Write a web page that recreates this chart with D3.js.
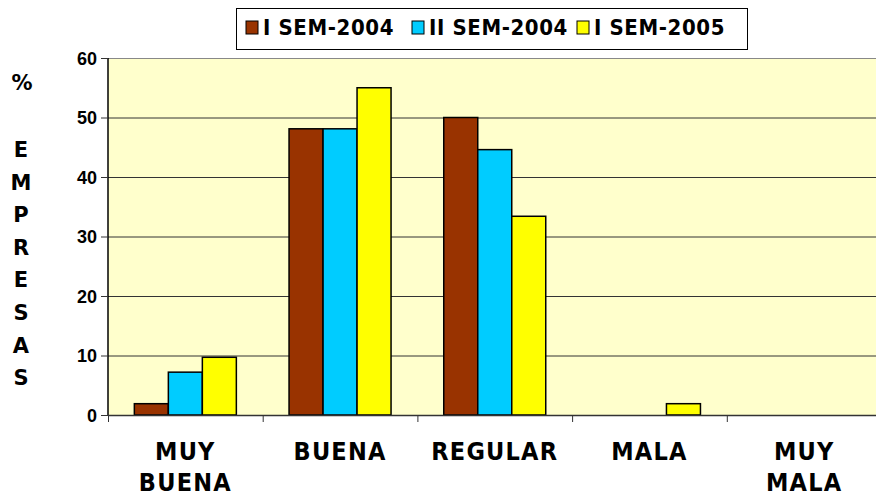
<!DOCTYPE html>
<html>
<head>
<meta charset="utf-8">
<script src="https://cdn.jsdelivr.net/npm/d3@7"></script>
<style>
  body { margin: 0; background: #fff; }
  svg { display: block; }
  .cat { font-family: "DejaVu Sans Condensed", "DejaVu Sans", sans-serif; font-stretch: condensed; font-weight: bold; font-size: 25px; letter-spacing: 1.2px; }
  .ylab { font-family: "Liberation Sans", Arial, sans-serif; font-weight: bold; font-size: 18px; }
  .ytitle { font-family: "DejaVu Sans", sans-serif; font-weight: bold; font-size: 21px; }
  .leg { font-family: "DejaVu Sans Condensed", "DejaVu Sans", sans-serif; font-stretch: condensed; font-weight: bold; font-size: 22px; letter-spacing: 0.6px; }
</style>
</head>
<body>
<svg id="chart" width="876" height="497"></svg>
<script>
const categories = [["MUY", "BUENA"], ["BUENA"], ["REGULAR"], ["MALA"], ["MUY", "MALA"]];
const seriesNames = ["I SEM-2004", "II SEM-2004", "I SEM-2005"];
const sem1_2004 = [1.9, 48.1, 50.0, 0, 0];
const sem2_2004 = [7.2, 48.1, 44.6, 0, 0];
const sem1_2005 = [9.7, 55.0, 33.4, 1.9, 0];
const yTicks = [0, 10, 20, 30, 40, 50, 60];
const titleLetters = ["E", "M", "P", "R", "E", "S", "A", "S"];

const colors = ["#993300", "#00CCFF", "#FFFF00"];
const series = [sem1_2004, sem2_2004, sem1_2005];

const plotL = 108, plotR = 881.5, plotT = 58, plotB = 415;
const svg = d3.select("#chart");

const x = d3.scaleBand().domain(d3.range(categories.length)).range([plotL, plotR]);
const y = d3.scaleLinear().domain([0, 60]).range([plotB, plotT]);
const barW = 34;
const inner = d3.scaleBand().domain(d3.range(3)).range([0, barW * 3]);

// plot background
svg.append("rect")
    .attr("x", plotL).attr("y", plotT)
    .attr("width", plotR - plotL).attr("height", plotB - plotT)
    .attr("fill", "#FFFFCC");

// gridlines
svg.append("g")
    .selectAll("line")
    .data(yTicks.filter(d => d > 0))
    .join("line")
    .attr("x1", plotL).attr("x2", plotR)
    .attr("y1", d => y(d) + 0.5).attr("y2", d => y(d) + 0.5)
    .attr("stroke", d => d === 60 ? "#888" : "#333")
    .attr("stroke-width", 1);

// bars
const groups = svg.append("g")
    .selectAll("g")
    .data(categories.map((c, i) => i))
    .join("g")
    .attr("transform", i => `translate(${x(i) + (x.bandwidth() - barW * 3) / 2},0)`);

groups.selectAll("rect")
    .data(i => series.map((s, k) => ({k, v: s[i]})).filter(d => d.v > 0))
    .join("rect")
    .attr("x", d => inner(d.k))
    .attr("width", inner.bandwidth())
    .attr("y", d => y(d.v))
    .attr("height", d => y(0) - y(d.v))
    .attr("fill", d => colors[d.k])
    .attr("stroke", "#000")
    .attr("stroke-width", 1.5);

// y axis
const yAxis = svg.append("g")
    .attr("transform", `translate(${plotL},0)`)
    .call(d3.axisLeft(y).tickValues(yTicks).tickSize(7).tickPadding(4));
yAxis.select(".domain").attr("stroke", "#000").attr("stroke-width", 1.5).attr("d", `M0,${plotT}V${plotB}`);
yAxis.selectAll(".tick line").attr("stroke", "#333");
yAxis.selectAll(".tick text").attr("class", "ylab").attr("fill", "#000").attr("dy", "0.36em");

// x axis
const xb = svg.append("g");
xb.append("line")
    .attr("x1", plotL).attr("x2", plotR)
    .attr("y1", plotB + 0.5).attr("y2", plotB + 0.5)
    .attr("stroke", "#333").attr("stroke-width", 1.5);
xb.selectAll(".xt")
    .data(d3.range(categories.length))
    .join("line")
    .attr("class", "xt")
    .attr("x1", i => x(i) + 0.5).attr("x2", i => x(i) + 0.5)
    .attr("y1", plotB).attr("y2", plotB + 7)
    .attr("stroke", "#333");

const labels = xb.selectAll(".cat")
    .data(categories)
    .join("text")
    .attr("class", "cat")
    .attr("text-anchor", "middle")
    .attr("x", (d, i) => x(i) + x.bandwidth() / 2)
    .attr("y", 460);
labels.selectAll("tspan")
    .data(d => d)
    .join("tspan")
    .attr("x", function() { return this.parentNode.getAttribute("x"); })
    .attr("dy", (d, j) => j === 0 ? 0 : 31)
    .text(d => d);

// y title, letter by letter
const yt = svg.append("g");
yt.append("text")
    .attr("class", "ytitle")
    .attr("text-anchor", "middle")
    .attr("x", 22).attr("y", 90)
    .text("%");
yt.selectAll(".ltr")
    .data(titleLetters)
    .join("text")
    .attr("class", "ytitle")
    .attr("text-anchor", "middle")
    .attr("x", 21)
    .attr("y", (d, i) => 157 + i * 32.6)
    .text(d => d);

// legend
const leg = svg.append("g");
leg.append("rect")
    .attr("x", 236.5).attr("y", 8.5)
    .attr("width", 511).attr("height", 41)
    .attr("fill", "#fff").attr("stroke", "#000").attr("stroke-width", 1);
const legX = [246, 412, 577];
const items = leg.selectAll(".item")
    .data(seriesNames)
    .join("g")
    .attr("transform", (d, i) => `translate(${legX[i]},21)`);
items.append("rect")
    .attr("width", 12).attr("height", 13)
    .attr("fill", (d, i) => colors[i])
    .attr("stroke", "#000").attr("stroke-width", 1);
items.append("text")
    .attr("class", "leg")
    .attr("x", 17).attr("y", 13.5)
    .text(d => d);
</script>
</body>
</html>
